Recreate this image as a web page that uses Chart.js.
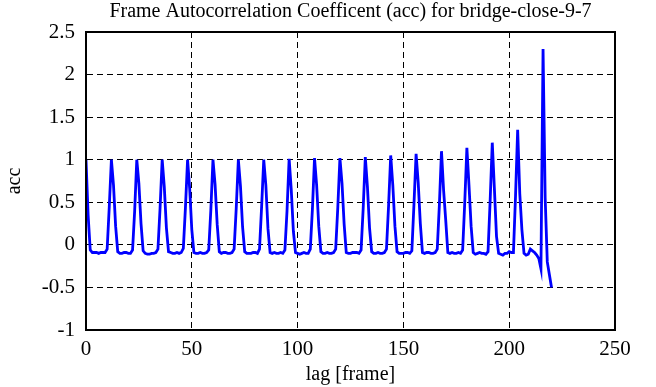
<!DOCTYPE html>
<html>
<head>
<meta charset="utf-8">
<script src="https://cdn.jsdelivr.net/npm/chart.js@4/dist/chart.umd.min.js"></script>
<style>
  html, body { margin: 0; padding: 0; background: #fff; }
  #wrap { width: 656px; height: 387px; }
</style>
</head>
<body>
<div id="wrap"><canvas id="acc-chart" width="656" height="387"></canvas></div>
<script>
  // acc value per lag (one row = one 12-frame period)
  var acc = [
    1.00, 0.35, -0.06, -0.09, -0.09, -0.09, -0.10, -0.09, -0.09, -0.09, -0.05, 0.45,
    1.00, 0.70, 0.22, -0.08, -0.10, -0.10, -0.09, -0.09, -0.10, -0.10, -0.06, 0.40,
    1.00, 0.72, 0.25, -0.07, -0.10, -0.11, -0.11, -0.10, -0.10, -0.09, -0.05, 0.43,
    1.00, 0.68, 0.20, -0.08, -0.09, -0.10, -0.10, -0.09, -0.10, -0.09, -0.04, 0.44,
    1.00, 0.66, 0.18, -0.09, -0.10, -0.10, -0.09, -0.10, -0.10, -0.09, -0.06, 0.41,
    1.00, 0.71, 0.24, -0.08, -0.10, -0.09, -0.09, -0.10, -0.10, -0.09, -0.05, 0.43,
    1.00, 0.69, 0.21, -0.08, -0.10, -0.10, -0.10, -0.09, -0.09, -0.10, -0.05, 0.45,
    1.00, 0.70, 0.19, -0.09, -0.10, -0.09, -0.10, -0.10, -0.09, -0.10, -0.06, 0.40,
    1.01, 0.65, 0.16, -0.09, -0.10, -0.11, -0.10, -0.09, -0.10, -0.10, -0.05, 0.42,
    1.02, 0.70, 0.22, -0.08, -0.10, -0.10, -0.09, -0.10, -0.10, -0.09, -0.05, 0.44,
    1.02, 0.72, 0.24, -0.09, -0.10, -0.10, -0.09, -0.09, -0.09, -0.10, -0.06, 0.43,
    1.03, 0.68, 0.20, -0.08, -0.10, -0.10, -0.09, -0.10, -0.10, -0.09, -0.05, 0.46,
    1.05, 0.70, 0.22, -0.08, -0.10, -0.10, -0.10, -0.09, -0.09, -0.10, -0.07, 0.48,
    1.07, 0.73, 0.25, -0.09, -0.10, -0.09, -0.09, -0.10, -0.10, -0.09, -0.05, 0.47,
    1.10, 0.64, 0.29, -0.09, -0.10, -0.09, -0.10, -0.10, -0.09, -0.10, -0.06, 0.50,
    1.14, 0.70, 0.22, -0.09, -0.11, -0.10, -0.09, -0.10, -0.10, -0.11, -0.08, 0.52,
    1.20, 0.66, 0.10, -0.10, -0.11, -0.12, -0.10, -0.10, -0.08, -0.09, -0.09, 0.58,
    1.35, 0.60, 0.18, -0.10, -0.12, -0.11, -0.05, -0.07, -0.09, -0.12, -0.16, -0.28,
    2.30, 0.55, -0.20, -0.35, -0.50
  ];
  var xMin = 0, xMax = 250, xStep = 50;
  var yMin = -1, yMax = 2.5, yStep = 0.5;

  var points = acc.map(function(v, i) { return { x: i, y: v }; });

  var serif = '"Liberation Serif", "Times New Roman", serif';
  var grid = {
    color: '#000',
    lineWidth: 1,
    drawTicks: false
  };

  var ctx = document.getElementById('acc-chart');
  new Chart(ctx, {
    type: 'line',
    data: {
      datasets: [{
        label: 'acc',
        data: points,
        borderColor: '#0000ff',
        borderWidth: 2.8,
        pointRadius: 0,
        tension: 0,
        fill: false
      }]
    },
    options: {
      responsive: false,
      animation: false,
      layout: { padding: { left: 0, right: 41, top: 0, bottom: 0 } },
      plugins: {
        legend: { display: false },
        tooltip: { enabled: false },
        title: {
          display: true,
          fullSize: false,
          text: 'Frame Autocorrelation Coefficent (acc) for bridge-close-9-7',
          color: '#000',
          font: { family: serif, size: 20, weight: 'normal' },
          padding: { top: 0, bottom: 8 }
        }
      },
      scales: {
        x: {
          type: 'linear',
          min: xMin, max: xMax,
          ticks: { stepSize: xStep, color: '#000', padding: 7, font: { family: serif, size: 21 } },
          grid: grid,
          border: { color: '#000', width: 2, dash: [6, 4] },
          title: { display: true, text: 'lag [frame]', color: '#000', padding: 0, font: { family: serif, size: 20 } },
          afterFit: function(s) { s.height = 57; }
        },
        y: {
          min: yMin, max: yMax,
          ticks: {
            stepSize: yStep, color: '#000', padding: 11, font: { family: serif, size: 21 },
            callback: function(v) { return String(v); }
          },
          grid: grid,
          border: { color: '#000', width: 2, dash: [6, 4] },
          title: { display: true, text: 'acc', color: '#000', padding: { top: 3 }, font: { family: serif, size: 20 } },
          afterFit: function(s) { s.width = 86; }
        }
      }
    },
    plugins: [{
      id: 'frame',
      beforeDraw: function(chart) {
        var c = chart.ctx;
        c.save();
        c.fillStyle = '#fff';
        c.fillRect(0, 0, chart.width, chart.height);
        c.restore();
      },
      afterDraw: function(chart) {
        var a = chart.chartArea, c = chart.ctx;
        c.save();
        c.strokeStyle = '#000';
        c.lineWidth = 2;
        c.strokeRect(a.left, a.top, a.right - a.left, a.bottom - a.top);
        c.restore();
      }
    }]
  });
</script>
</body>
</html>
